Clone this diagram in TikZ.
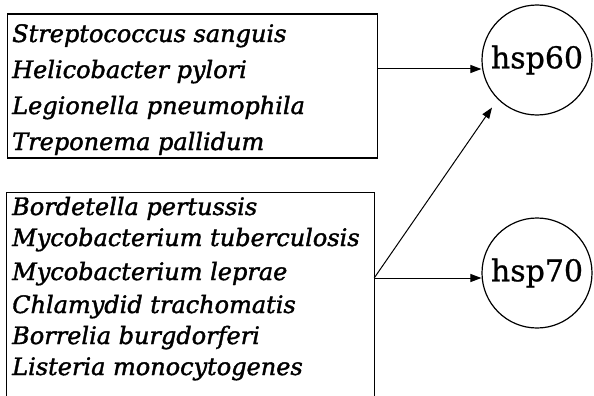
\documentclass[tikz,border=0pt]{standalone}
\usepackage{fontspec}
\setmainfont{DejaVu Serif}
\newfontfamily\spfont[FakeBold=1.6]{DejaVu Serif}
\newfontfamily\hspfont[FakeBold=0.8]{DejaVu Serif}
\usetikzlibrary{arrows.meta}
\tikzset{
  sp/.style={anchor=base west, inner sep=0pt, font=\spfont\fontsize{24}{24}\selectfont\itshape},
  frame/.style={line width=1.3pt},
  arr/.style={line width=1pt, -{Triangle[length=11pt, width=8pt]}},
  hsp/.style={circle, draw, line width=1.2pt, minimum size=110pt, inner sep=0pt, font=\hspfont\fontsize{30}{30}\selectfont}
}
\begin{document}
\begin{tikzpicture}[x=1pt,y=-1pt]
\useasboundingbox (0,0) rectangle (594,396);
% box 1
\node[draw, frame, minimum width=370pt, minimum height=144pt, inner sep=0pt] (b1) at (192.5,86) {};
\node[sp] (t1) at (12,42) {Streptococcus sanguis};
\node[sp] (t2) at (12,78) {Helicobacter pylori};
\node[sp] (t3) at (12,114) {Legionella pneumophila};
\node[sp] (t4) at (12,150) {Treponema pallidum};
% box 2 (open at bottom)
\node[minimum width=367pt, minimum height=203pt, inner sep=0pt] (b2) at (190.5,294.5) {};
\draw[frame] (b2.south west) |- (b2.north east) -- (b2.south east);
\node[sp] (u1) at (12,215) {Bordetella pertussis};
\node[sp] (u2) at (12,246) {Mycobacterium tuberculosis};
\node[sp] (u3) at (12,280) {Mycobacterium leprae};
\node[sp] (u4) at (12,313) {Chlamydid trachomatis};
\node[sp] (u5) at (12,344) {Borrelia burgdorferi};
\node[sp] (u6) at (12,375) {Listeria monocytogenes};
% circles
\node[hsp] (h60) at (537,60) {hsp60};
\node[hsp] (h70) at (537,273) {hsp70};
% connectors
\coordinate (s1) at (b1.east |- 0,69);
\coordinate (s2) at (b2.east |- 0,278);
\draw[arr] (s1) -- (s1 -| h60.west);
\draw[arr] (s2) -- (s2 -| h70.west);
\draw[arr, shorten >=10pt] (s2) -- (h60.south west);
\end{tikzpicture}
\end{document}
